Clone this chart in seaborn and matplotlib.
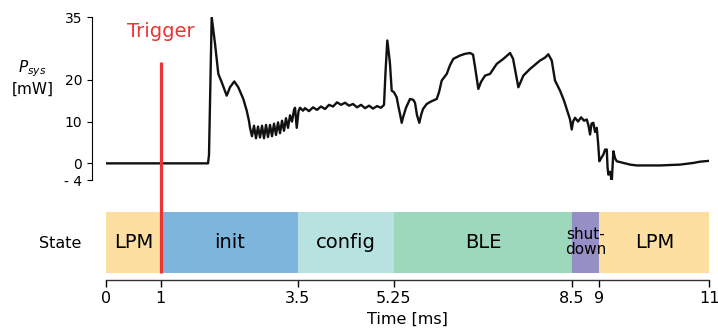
import matplotlib
matplotlib.use("Agg")
import matplotlib.pyplot as plt
import pandas as pd
import seaborn as sns

# power trace (time in ms, power in mW)
time_ms = [0.0, 1.861, 1.879, 1.928, 1.988, 2.049, 2.111, 2.202, 2.262, 2.340, 2.413,
           2.505, 2.567, 2.609, 2.627, 2.663, 2.700, 2.736, 2.773, 2.809, 2.846, 2.882,
           2.919, 2.955, 2.992, 3.028, 3.065, 3.101, 3.138, 3.174, 3.211, 3.247, 3.283,
           3.320, 3.357, 3.393, 3.430, 3.448, 3.479, 3.512, 3.539, 3.593, 3.630, 3.703,
           3.776, 3.849, 3.922, 3.995, 4.068, 4.141, 4.214, 4.287, 4.360, 4.433, 4.506,
           4.579, 4.652, 4.725, 4.798, 4.871, 4.944, 5.016, 5.071, 5.099, 5.131, 5.162,
           5.180, 5.211, 5.253, 5.302, 5.335, 5.363, 5.394, 5.418, 5.472, 5.545, 5.605,
           5.636, 5.673, 5.715, 5.746, 5.782, 5.850, 5.928, 6.032, 6.074, 6.123, 6.215,
           6.275, 6.335, 6.457, 6.549, 6.640, 6.695, 6.732, 6.791, 6.841, 6.914, 7.005,
           7.060, 7.127, 7.248, 7.370, 7.425, 7.521, 7.613, 7.735, 7.826, 7.917, 8.008,
           8.068, 8.130, 8.190, 8.281, 8.354, 8.391, 8.433, 8.464, 8.495, 8.519, 8.555,
           8.610, 8.665, 8.720, 8.769, 8.801, 8.829, 8.856, 8.889, 8.920, 8.951, 8.975,
           8.999, 9.029, 9.072, 9.103, 9.134, 9.148, 9.163, 9.194, 9.225, 9.254, 9.285,
           9.316, 9.437, 9.559, 9.680, 10.106, 10.471, 10.713, 10.835, 11.0]
power_mw = [0.0, 0.0, 2.0, 35.0, 28.7, 21.4, 19.4, 16.2, 18.2, 19.6, 18.2,
            15.4, 12.6, 10.1, 8.5, 6.5, 9.0, 6.0, 8.8, 6.2, 9.0, 6.0,
            9.2, 6.3, 9.2, 6.5, 9.5, 6.8, 9.8, 7.2, 10.2, 7.8, 10.8,
            8.5, 11.5, 10.0, 12.8, 13.3, 8.5, 12.5, 13.3, 12.6, 13.2, 12.5,
            13.4, 12.8, 13.6, 13.0, 14.0, 13.6, 14.6, 14.0, 14.5, 13.8, 14.2,
            13.4, 14.0, 13.2, 13.8, 13.1, 13.7, 13.3, 14.0, 22.0, 29.4, 26.0,
            23.8, 17.4, 17.0, 15.8, 13.5, 11.8, 9.7, 11.0, 13.3, 15.4, 15.2,
            14.5, 11.5, 9.7, 11.5, 13.0, 14.2, 14.8, 15.4, 17.0, 19.8, 21.4,
            23.5, 25.0, 25.8, 26.2, 26.4, 26.0, 23.0, 17.8, 19.5, 21.0, 21.4,
            22.5, 23.8, 25.0, 26.4, 25.0, 18.2, 21.0, 22.6, 23.6, 24.6, 25.3,
            26.1, 24.6, 19.8, 17.4, 15.0, 13.5, 11.8, 10.5, 8.1, 10.0, 10.9,
            10.0, 11.0, 10.2, 10.5, 9.0, 6.9, 9.5, 9.7, 7.5, 8.5, 5.0,
            0.5, 1.2, 2.1, 3.3, 3.3, -1.0, -2.7, -2.0, -4.3, 2.9, 1.2,
            0.5, 0.1, -0.3, -0.5, -0.5, -0.3, 0.1, 0.4, 0.6]

# device states
state_names = ["LPM", "init", "config", "BLE", "shut-\ndown", "LPM"]
state_start = [0, 1, 3.5, 5.25, 8.5, 9]
state_end = [1, 3.5, 5.25, 8.5, 9, 11]
state_colors = ["#fddfa2", "#7db5dc", "#b8e2e0", "#9dd8bc", "#968fc6", "#fddfa2"]
state_fontsize = [14, 14, 14, 14, 11, 14]

x_ticks = [0, 1, 3.5, 5.25, 8.5, 9, 11]
x_ticklabels = ["0", "1", "3.5", "5.25", "8.5", "9", "11"]
y_ticks = [35, 20, 10, 0, -4]
y_ticklabels = ["35", "20", "10", "0", "- 4"]
trigger_time = 1

sns.set_style("ticks")
plt.rcParams["font.family"] = ["DejaVu Sans"]
plt.rcParams["text.color"] = "black"
plt.rcParams["axes.labelcolor"] = "black"
plt.rcParams["xtick.color"] = "black"
plt.rcParams["ytick.color"] = "black"

fig = plt.figure(figsize=(7.18, 3.28), dpi=100)
ax1 = fig.add_axes([0.1476, 0.451, 0.840, 0.497])
ax2 = fig.add_axes([0.1476, 0.1677, 0.840, 0.186])

df = pd.DataFrame({"t": time_ms, "p": power_mw})
sns.lineplot(data=df, x="t", y="p", ax=ax1, color="#111111", linewidth=1.7,
             sort=False, estimator=None)
ax1.set_xlim(0, 11)
ax1.set_ylim(-4, 35)
ax1.set_yticks(y_ticks, y_ticklabels)
ax1.tick_params(axis="y", labelsize=10)
ax1.set_xticks([])
ax1.set_xlabel("")
ax1.set_ylabel(r"$P_{sys}$" + "\n[mW]", rotation=0, fontsize=11, ha="center", va="center")
ax1.yaxis.set_label_coords(-0.122, 0.63)
sns.despine(ax=ax1, bottom=True, offset={"left": 10})
ax1.spines["left"].set_color("black")

# trigger marker, spans into the state bar
ax1.plot([trigger_time, trigger_time], [24.2, -26.2], color="#ee3333", linewidth=2.3,
         clip_on=False, solid_capstyle="butt")
ax1.text(trigger_time, 31.6, "Trigger", color="#ee3333", fontsize=14, ha="center", va="center")
ax1.set_zorder(2)
ax1.patch.set_alpha(0)

for name, s, e, c, fs in zip(state_names, state_start, state_end, state_colors, state_fontsize):
    ax2.barh(0.5, e - s, left=s, height=1, color=c, edgecolor=c, linewidth=0.8)
    ax2.text((s + e) / 2, 0.5, name, ha="center", va="center", fontsize=fs,
             color="black", linespacing=1.0)
ax2.set_xlim(0, 11)
ax2.set_ylim(0, 1)
ax2.set_yticks([0.5], ["State"])
ax2.tick_params(axis="y", length=0, pad=17.5, labelsize=11.5)
ax2.set_xticks(x_ticks, x_ticklabels)
ax2.tick_params(axis="x", width=1.0, length=5, pad=3, labelsize=11.5)
ax2.set_xlabel("Time [ms]", fontsize=11.5, labelpad=4)
sns.despine(ax=ax2, left=True, offset={"bottom": 5})
ax2.spines["bottom"].set_color("#333333")
ax2.spines["bottom"].set_linewidth(1.0)

fig.savefig("out.png", dpi=100)
